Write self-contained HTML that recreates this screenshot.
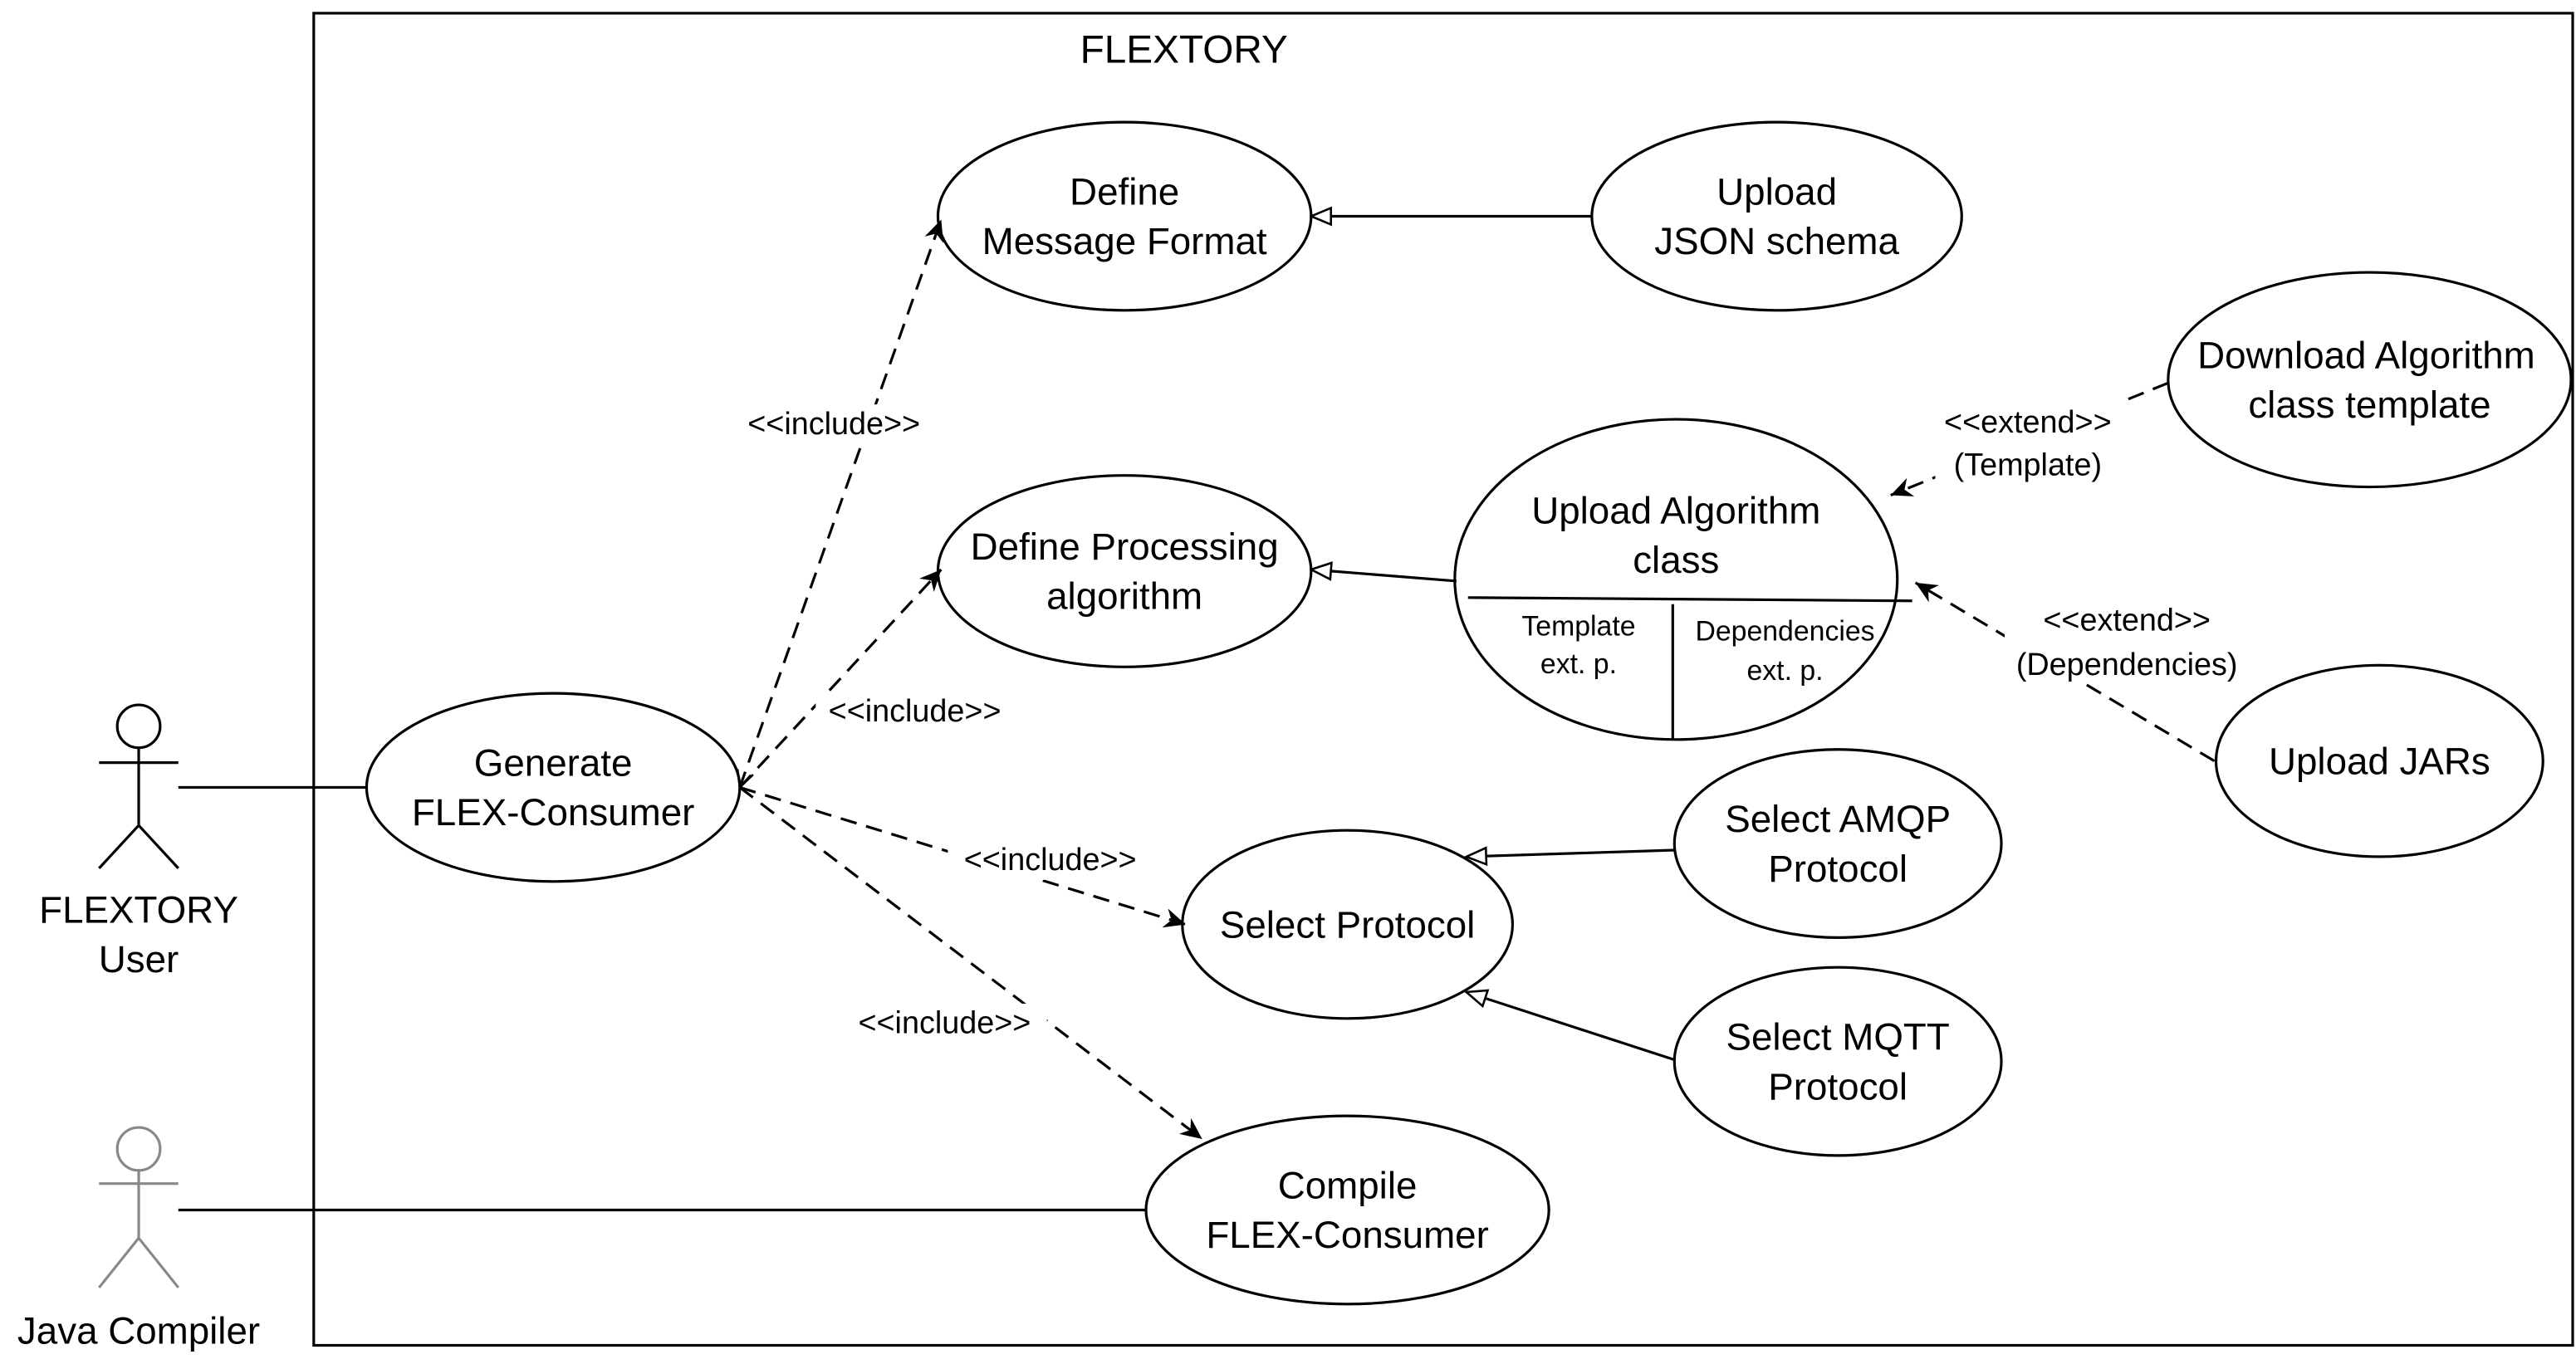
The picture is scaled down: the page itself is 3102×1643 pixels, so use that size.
<!DOCTYPE html>
<html><head><style>html,body{margin:0;padding:0;background:#fff}svg{display:block}</style></head><body>
<svg width="3102" height="1643" viewBox="0 0 1560 826.3" preserveAspectRatio="none" xmlns="http://www.w3.org/2000/svg" font-family="Liberation Sans, sans-serif">
<defs>
<marker id="tri" markerWidth="14" markerHeight="12" refX="13" refY="6" orient="auto" markerUnits="userSpaceOnUse"><path d="M1,1 L13,6 L1,11 Z" fill="#fff" stroke="#000" stroke-width="1.3"/></marker>
<marker id="open" markerWidth="14" markerHeight="12" refX="13" refY="6" orient="auto" markerUnits="userSpaceOnUse"><path d="M0,0 L13,6 L0,12 L4,6 Z" fill="#000"/></marker>
<marker id="v" markerWidth="12" markerHeight="12" refX="1" refY="6" orient="auto" markerUnits="userSpaceOnUse"><path d="M11,1 L1,6 L11,11" fill="none" stroke="#000" stroke-width="1.3"/></marker>
</defs>
<g fill="none" stroke="#000" stroke-width="1.6">
<rect x="190" y="8" width="1368" height="807"/>
<ellipse cx="681" cy="131" rx="113" ry="57"/>
<ellipse cx="1076" cy="131" rx="112" ry="57"/>
<ellipse cx="1435" cy="230" rx="122" ry="65"/>
<ellipse cx="681" cy="346" rx="113" ry="58"/>
<ellipse cx="1015" cy="351" rx="134" ry="97"/>
<line x1="889" y1="362" x2="1158" y2="364"/>
<line x1="1013" y1="366" x2="1013" y2="448"/>
<ellipse cx="1441" cy="461" rx="99" ry="58"/>
<ellipse cx="335" cy="477" rx="113" ry="57"/>
<ellipse cx="1113" cy="511" rx="99" ry="57"/>
<ellipse cx="816" cy="560" rx="100" ry="57"/>
<ellipse cx="1113" cy="643" rx="99" ry="57"/>
<ellipse cx="816" cy="733" rx="122" ry="57"/>
<circle cx="84" cy="440" r="13"/>
<path d="M84,453 V500 M60,462 H108 M60,526 L84,500 L108,526"/>
<line x1="108" y1="477" x2="222" y2="477"/>
<line x1="108" y1="733" x2="694" y2="733"/>
<line x1="964" y1="131" x2="794" y2="131" marker-end="url(#tri)"/>
<line x1="882" y1="352" x2="794" y2="345" marker-end="url(#tri)"/>
<line x1="1014" y1="515" x2="888" y2="519" marker-end="url(#tri)"/>
<line x1="1014" y1="642" x2="888" y2="601" marker-end="url(#tri)"/>
<g stroke-dasharray="10,6">
<line x1="448" y1="477" x2="570" y2="133" marker-end="url(#open)" marker-start="url(#v)"/>
<line x1="448" y1="477" x2="570" y2="345" marker-end="url(#open)"/>
<line x1="448" y1="477" x2="718" y2="560" marker-end="url(#open)"/>
<line x1="448" y1="477" x2="728" y2="690" marker-end="url(#open)"/>
<line x1="1313" y1="232" x2="1145" y2="300" marker-end="url(#open)"/>
<line x1="1341" y1="461" x2="1160" y2="353" marker-end="url(#open)"/>
</g>
</g>
<g fill="none" stroke="#888" stroke-width="1.6">
<circle cx="84" cy="696" r="13"/>
<path d="M84,709 V750 M60,717 H108 M60,780 L84,750 L108,780"/>
</g>
<g font-size="23" text-anchor="middle" fill="#000">
<text x="717" y="38" font-size="24">FLEXTORY</text>
<text x="681" y="124">Define</text><text x="681" y="154">Message Format</text>
<text x="1076" y="124">Upload</text><text x="1076" y="154">JSON schema</text>
<text x="1433" y="223">Download Algorithm</text><text x="1435" y="253">class template</text>
<text x="681" y="339">Define Processing</text><text x="681" y="369">algorithm</text>
<text x="1015" y="317">Upload Algorithm</text><text x="1015" y="347">class</text>
<text x="1441" y="469">Upload JARs</text>
<text x="335" y="470">Generate</text><text x="335" y="500">FLEX-Consumer</text>
<text x="1113" y="504">Select AMQP</text><text x="1113" y="534">Protocol</text>
<text x="816" y="568">Select Protocol</text>
<text x="1113" y="636">Select MQTT</text><text x="1113" y="666">Protocol</text>
<text x="816" y="726">Compile</text><text x="816" y="756">FLEX-Consumer</text>
<text x="84" y="559">FLEXTORY</text><text x="84" y="589">User</text>
<text x="84" y="814">Java Compiler</text>
</g>
<g font-size="17" text-anchor="middle" fill="#000">
<text x="956" y="385">Template</text><text x="956" y="408">ext. p.</text>
<text x="1081" y="388">Dependencies</text><text x="1081" y="412">ext. p.</text>
</g>
<g font-size="19" text-anchor="middle" fill="#000">
<rect x="446" y="245" width="120" height="24" fill="#fff"/>
<text x="505" y="263">&lt;&lt;include&gt;&gt;</text>
<rect x="494" y="419" width="120" height="24" fill="#fff"/>
<text x="554" y="437">&lt;&lt;include&gt;&gt;</text>
<rect x="574" y="509" width="124" height="24" fill="#fff"/>
<text x="636" y="527">&lt;&lt;include&gt;&gt;</text>
<rect x="510" y="608" width="124" height="24" fill="#fff"/>
<text x="572" y="626">&lt;&lt;include&gt;&gt;</text>
<rect x="1172" y="243" width="112" height="50" fill="#fff"/>
<text x="1228" y="262">&lt;&lt;extend&gt;&gt;</text><text x="1228" y="288">(Template)</text>
<rect x="1214" y="364" width="148" height="50" fill="#fff"/>
<text x="1288" y="382">&lt;&lt;extend&gt;&gt;</text><text x="1288" y="409">(Dependencies)</text>
</g>
</svg>
</body></html>
